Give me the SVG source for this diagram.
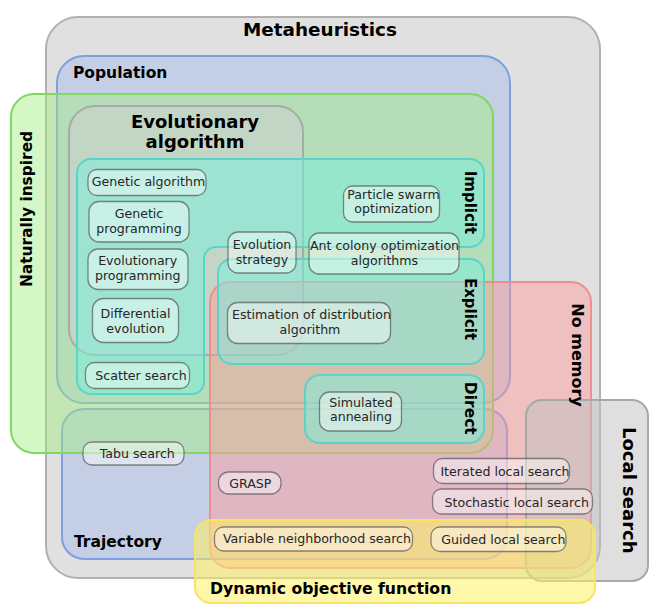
<svg xmlns="http://www.w3.org/2000/svg" width="670" height="615" viewBox="0 0 670 615">
<style>
.lbl{font-family:"DejaVu Sans","Liberation Sans",sans-serif;font-weight:bold;fill:#000}
.nt{font-family:"DejaVu Sans","Liberation Sans",sans-serif;font-size:12.6px;fill:#262626;text-anchor:middle}
.node{fill:#ffffff;fill-opacity:0.45;stroke:#4d4d4d;stroke-opacity:0.65;stroke-width:1.3}
.teal{fill:#77f0e0;fill-opacity:0.5;stroke:#5ad4c8;stroke-width:2}
.blue{fill:#8fb0f0;fill-opacity:0.35;stroke:#7d9ee0;stroke-width:2}
</style>
<rect width="670" height="615" fill="#ffffff"/>
<g id="regions">
<g id="metaheuristics"><rect x="46" y="17" width="554" height="561" rx="32" fill="#e0e0e0" stroke="#b0b0b0" stroke-width="2"/></g>
<g id="population"><rect class="blue" x="57" y="56" width="453" height="347" rx="27"/></g>
<g id="trajectory"><rect class="blue" x="62" y="409" width="445" height="150" rx="22"/></g>
<g id="naturally-inspired"><rect x="11" y="94" width="482" height="359" rx="23" fill="#a2ed80" fill-opacity="0.45" stroke="#80d860" stroke-width="2"/></g>
<g id="evolutionary"><rect x="69" y="106" width="234" height="249" rx="26" fill="#cfcfcf" fill-opacity="0.55" stroke="#a0a0a0" stroke-width="2" stroke-opacity="0.8"/></g>
<g id="no-memory"><rect x="210" y="282" width="381" height="286" rx="20" fill="#ff9a9a" fill-opacity="0.45" stroke="#ee8e90" stroke-width="2"/></g>
<g id="implicit"><path class="teal" d="M91,159 H470 A14 14 0 0 1 484,173 V233 A14 14 0 0 1 470,247 H216 A12 12 0 0 0 204,259 V382 A12 12 0 0 1 192,394 H91 A14 14 0 0 1 77,380 V173 A14 14 0 0 1 91,159 Z"/></g>
<g id="explicit"><rect class="teal" x="218" y="259" width="266" height="105" rx="14"/></g>
<g id="direct"><rect class="teal" x="305" y="375" width="179" height="68" rx="15"/></g>
<g id="local-search"><rect x="526" y="400" width="122" height="181" rx="16" fill="#bfbfbf" fill-opacity="0.5" stroke="#a8a8a8" stroke-width="2"/></g>
<g id="dynamic"><rect x="195" y="520" width="400" height="83" rx="16" fill="#fff064" fill-opacity="0.55" stroke="#f8e268" stroke-width="2"/></g>
</g>
<g id="region-labels">
<text class="lbl" x="320" y="36" font-size="18.4" text-anchor="middle">Metaheuristics</text>
<text class="lbl" x="73" y="78" font-size="15.5">Population</text>
<text class="lbl" x="74" y="547" font-size="15.5">Trajectory</text>
<text class="lbl" x="210" y="594" font-size="15.7">Dynamic objective function</text>
<text class="lbl" font-size="18" text-anchor="middle"><tspan x="195" y="128">Evolutionary</tspan><tspan x="195" y="147.5">algorithm</tspan></text>
<text class="lbl" font-size="15.4" text-anchor="middle" transform="translate(31.5,209) rotate(-90)">Naturally inspired</text>
<text class="lbl" font-size="15" text-anchor="middle" transform="translate(464.5,202.5) rotate(90)">Implicit</text>
<text class="lbl" font-size="15" text-anchor="middle" transform="translate(464.5,309) rotate(90)">Explicit</text>
<text class="lbl" font-size="15.5" text-anchor="middle" transform="translate(464.5,408.3) rotate(90)">Direct</text>
<text class="lbl" font-size="16" text-anchor="middle" transform="translate(572,355) rotate(90)">No memory</text>
<text class="lbl" font-size="18" text-anchor="middle" transform="translate(623,490.3) rotate(90)">Local search</text>
</g>
<g id="nodes">
<g id="ga"><rect class="node" x="88" y="169.5" width="118" height="26" rx="9"/><text class="nt" x="148.5" y="186">Genetic algorithm</text></g>
<g id="gp"><rect class="node" x="89" y="201.5" width="100" height="40.5" rx="10"/><text class="nt"><tspan x="139" y="217.5">Genetic</tspan><tspan x="139" y="232.5">programming</tspan></text></g>
<g id="ep"><rect class="node" x="88" y="249" width="100" height="40.5" rx="10"/><text class="nt"><tspan x="137.7" y="264.5">Evolutionary</tspan><tspan x="137.7" y="279.5">programming</tspan></text></g>
<g id="de"><rect class="node" x="92.5" y="298.5" width="86" height="44" rx="11"/><text class="nt"><tspan x="135.5" y="317.5">Differential</tspan><tspan x="135.5" y="332.5">evolution</tspan></text></g>
<g id="ss"><rect class="node" x="85.5" y="362.5" width="104" height="26" rx="9"/><text class="nt" x="141" y="379.5">Scatter search</text></g>
<g id="pso"><rect class="node" x="343.5" y="186" width="96" height="36" rx="9"/><text class="nt"><tspan x="393.5" y="198.5">Particle swarm</tspan><tspan x="393.5" y="213.3">optimization</tspan></text></g>
<g id="es"><rect class="node" x="228" y="232" width="68" height="41" rx="10"/><text class="nt"><tspan x="262" y="248.5">Evolution</tspan><tspan x="262" y="263.5">strategy</tspan></text></g>
<g id="aco"><rect class="node" x="309" y="233" width="150" height="41" rx="10"/><text class="nt"><tspan x="384.5" y="250">Ant colony optimization</tspan><tspan x="384.5" y="264.8">algorithms</tspan></text></g>
<g id="eda"><rect class="node" x="227.5" y="302.5" width="163" height="41" rx="10"/><text class="nt"><tspan x="311.5" y="319">Estimation of distribution</tspan><tspan x="310" y="333.8">algorithm</tspan></text></g>
<g id="sa"><rect class="node" x="319.5" y="392" width="82" height="39" rx="10"/><text class="nt"><tspan x="361" y="406.5">Simulated</tspan><tspan x="361" y="421.3">annealing</tspan></text></g>
<g id="tabu"><rect class="node" x="83" y="442" width="101" height="23" rx="9"/><text class="nt" x="137.3" y="457.5">Tabu search</text></g>
<g id="grasp"><rect class="node" x="218.5" y="472" width="62.5" height="22" rx="10"/><text class="nt" x="250.3" y="487.5">GRASP</text></g>
<g id="ils"><rect class="node" x="433.5" y="458.5" width="136" height="25" rx="9"/><text class="nt" x="505" y="475.5">Iterated local search</text></g>
<g id="stls"><rect class="node" x="432.5" y="489" width="160" height="25" rx="9"/><text class="nt" x="516.7" y="506.5">Stochastic local search</text></g>
<g id="vns"><rect class="node" x="214.5" y="527" width="198" height="24" rx="9"/><text class="nt" x="317" y="542.5">Variable neighborhood search</text></g>
<g id="gls"><rect class="node" x="431" y="527" width="135" height="24.5" rx="9"/><text class="nt" x="503.3" y="544">Guided local search</text></g>
</g>
<g id="connectors"></g>
</svg>
